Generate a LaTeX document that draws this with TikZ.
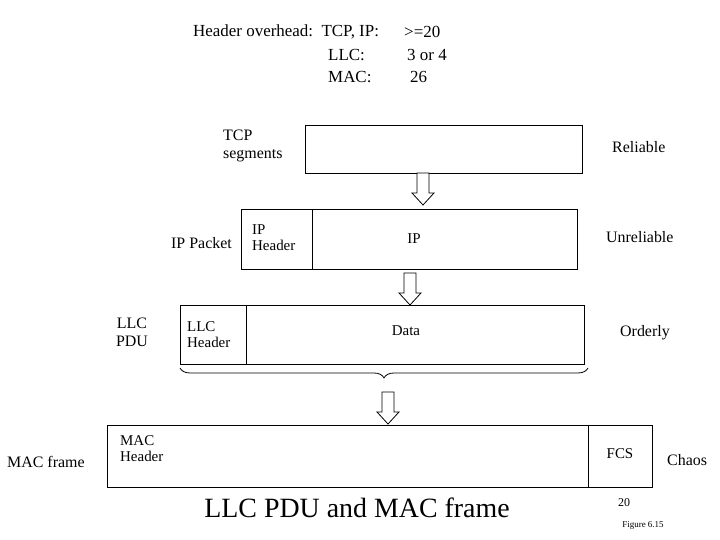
\documentclass[tikz,border=0pt]{standalone}
\usepackage{fontspec}
\setmainfont{Liberation Serif}
\usetikzlibrary{decorations.pathreplacing}
\tikzset{
	txt/.style={font=\fontsize{16}{18}\selectfont, align=left, inner sep=0pt},
	hd/.style={txt, anchor=west, font=\fontsize{17}{19}\selectfont},
	boxtxt/.style={font=\fontsize{15}{16}\selectfont, align=left, inner sep=0pt},
	down/.pic={\draw[thick, fill=white] (-6,-16) -- (6,-16) -- (6,4) -- (11,4) -- (0,16) -- (-11,4) -- (-6,4) -- cycle;}
}
\begin{document}
\begin{tikzpicture}[x=1bp, y=-1bp]
	\useasboundingbox (0,0) rectangle (720,540);
	%header overhead
	\node[hd] (hdr) at (193,32) {Header overhead:\ \ TCP, IP:};
	\node[hd] (tcpv) at (404,32) {>=20};
	\node[hd] (llcl) at (328,55) {LLC:};
	\node[hd] (llcv) at (407,55) {3 or 4};
	\node[hd] (macl) at (328,77) {MAC:};
	\node[hd] (macv) at (410,77) {26};
	
	%TCP segments
	\draw[thick] (305,125) rectangle (582,173);
	\node[txt, anchor=west] (tcp) at (223,146) {TCP\\segments};
	\node[txt, anchor=west] (rel) at (612,147) {Reliable};
	\pic at (423,189) {down};
	
	%IP packet
	\draw[thick] (241,209) rectangle (577,269);
	\draw[thick] (312,209) -- (312,269);
	\node[txt, anchor=east] (ipp) at (232,243) {IP Packet};
	\node[boxtxt, anchor=west] (iph) at (252,238) {IP\\Header};
	\node[boxtxt] (ip) at (414,239) {IP};
	\node[txt, anchor=west] (unrel) at (606,237) {Unreliable};
	\pic at (410,289) {down};
	
	%LLC PDU
	\draw[thick] (180,305) rectangle (584,364);
	\draw[thick] (246,305) -- (246,364);
	\node[txt, align=center] (llcpdu) at (132,332) {LLC\\PDU};
	\node[boxtxt, anchor=west] (llch) at (187,335) {LLC\\Header};
	\node[boxtxt] (data) at (406,331) {Data};
	\node[txt, anchor=west] (ord) at (620,333) {Orderly};
	\draw[thick, decorate, decoration={brace, mirror, amplitude=10pt}] (180,368) -- (588,368);
	\pic at (388,408) {down};
	
	%MAC frame
	\draw[thick] (107,425) rectangle (652,487);
	\draw[thick] (588,425) -- (588,487);
	\node[txt, anchor=west] (macf) at (7,462) {MAC frame};
	\node[boxtxt, anchor=west] (mach) at (120,449) {MAC\\Header};
	\node[boxtxt] (fcs) at (620,454) {FCS};
	\node[txt, anchor=west] (chaos) at (667,460) {Chaos};
	
	\node[txt, font=\fontsize{28}{30}\selectfont] (title) at (357,508) {LLC PDU and MAC frame};
	\node[txt, font=\fontsize{12}{14}\selectfont] (pg) at (624,503) {20};
	\node[txt, font=\fontsize{9}{11}\selectfont] (fig) at (643,525) {Figure 6.15};
\end{tikzpicture}
\end{document}
